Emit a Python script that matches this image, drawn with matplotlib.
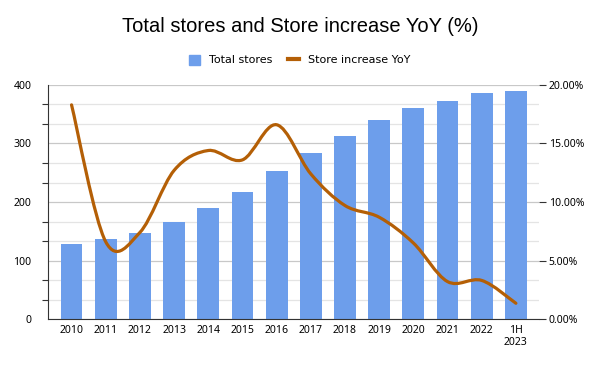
import numpy as np
import matplotlib
matplotlib.use('Agg')
from matplotlib import pyplot as plt
from matplotlib.path import Path
from matplotlib.patches import PathPatch
from matplotlib.lines import Line2D
from matplotlib.ticker import MultipleLocator, FuncFormatter

years = ['2010', '2011', '2012', '2013', '2014', '2015', '2016', '2017',
         '2018', '2019', '2020', '2021', '2022', '1H\n2023']
total_stores = [128, 137, 147, 166, 190, 217, 253, 284, 313, 340, 361, 373, 386, 390]
increase_yoy = [18.3, 6.6, 7.4, 12.7, 14.4, 13.6, 16.6, 12.4, 9.7, 8.7, 6.5, 3.2, 3.3, 1.35]

bar_color = '#6d9eeb'
line_color = '#b45f06'
plt.rcParams['font.family'] = ['Noto Sans', 'DejaVu Sans']

fig = plt.figure(figsize=(6, 3.71), dpi=100)
ax = fig.add_axes([0.0805, 0.140, 0.8175, 0.631])
ax2 = ax.twinx()

x = np.arange(len(years))
ax.bar(x, total_stores, width=0.64, color=bar_color, zorder=2)

# smooth line: cubic bezier segments (catmull-rom style control points)
p = np.column_stack([x, increase_yoy]).astype(float)
verts = [p[0]]
codes = [Path.MOVETO]
for i in range(len(p) - 1):
    prev = p[i - 1] if i > 0 else p[i]
    nxt = p[i + 2] if i + 2 < len(p) else p[i + 1]
    c1 = p[i] + (p[i + 1] - prev) / 6
    c2 = p[i + 1] - (nxt - p[i]) / 6
    verts += [c1, c2, p[i + 1]]
    codes += [Path.CURVE4] * 3
ax2.add_patch(PathPatch(Path(verts, codes), fill=False, edgecolor=line_color,
                        linewidth=2.3, capstyle='round', zorder=3))

ax.set_xlim(-0.68, 13.67)
ax.set_ylim(0, 400)
ax2.set_ylim(0, 20)

ax.set_xticks(x)
ax.set_xticklabels(years, fontsize=7.5)
ax.yaxis.set_major_locator(MultipleLocator(100))
ax.yaxis.set_minor_locator(MultipleLocator(100 / 3))
ax2.yaxis.set_major_locator(MultipleLocator(5))
ax2.yaxis.set_minor_locator(MultipleLocator(5 / 3))
ax2.yaxis.set_major_formatter(FuncFormatter(lambda v, pos: '%.2f%%' % v))

ax.grid(axis='y', which='major', color='#c8c8c8', linewidth=0.9, zorder=0)
ax.grid(axis='y', which='minor', color='#e4e4e4', linewidth=0.9, zorder=0)
ax.set_axisbelow(True)

ax.tick_params(axis='x', length=0, labelsize=7.5, pad=4)
ax.tick_params(axis='y', which='major', length=0, labelsize=7.5, pad=12)
ax.tick_params(axis='y', which='minor', length=4, width=0.8, color='#333333')
ax2.tick_params(axis='y', which='major', length=5, width=0.8, color='#333333', labelsize=7.5, pad=2)
ax2.tick_params(axis='y', which='minor', length=0)

for a in (ax, ax2):
    a.spines['top'].set_visible(False)
    a.spines['right'].set_visible(False)
ax2.spines['left'].set_visible(False)
ax2.spines['bottom'].set_visible(False)
ax.spines['left'].set_color('#333333')
ax.spines['bottom'].set_color('#333333')

fig.suptitle('Total stores and Store increase YoY (%)', family='Liberation Sans',
             fontsize=14.5, y=0.955)

handles = [plt.Rectangle((0, 0), 1, 1, color=bar_color),
           Line2D([], [], color=line_color, linewidth=3)]
fig.legend(handles, ['Total stores', 'Store increase YoY'], loc='center',
           bbox_to_anchor=(0.5, 0.838), ncol=2, frameon=False,
           prop={'family': 'DejaVu Sans', 'size': 8},
           handlelength=1.0, handleheight=1.0, columnspacing=1.4, handletextpad=0.8)

plt.savefig('out.png', dpi=100)
